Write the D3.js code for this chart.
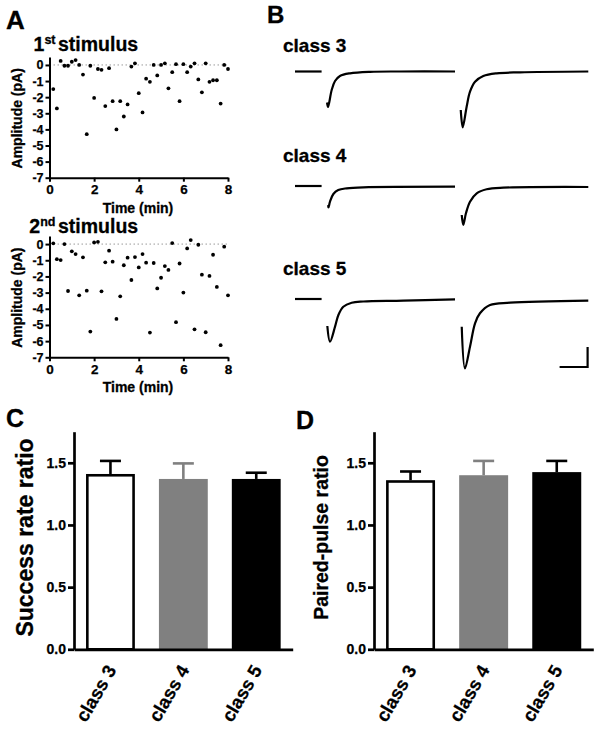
<!DOCTYPE html>
<html><head><meta charset="utf-8">
<script src="https://cdn.jsdelivr.net/npm/d3@7"></script>
<style>
body{margin:0;background:#fff}
svg{display:block}
text{font-family:"Liberation Sans",Arial,Helvetica,sans-serif;font-weight:bold;fill:#000;stroke:#000;stroke-width:0.3px}
</style>
</head><body>
<svg id="fig" width="600" height="746"></svg>
<script>
// ---------- DATA ----------
const stimTimes = [0.17,0.33,0.5,0.67,0.83,1.0,1.17,1.33,1.5,1.67,1.83,2.0,2.17,2.33,2.5,2.67,2.83,3.0,3.17,3.33,3.5,3.67,3.83,4.0,4.17,4.33,4.5,4.67,4.83,5.0,5.17,5.33,5.5,5.67,5.83,6.0,6.17,6.33,6.5,6.67,6.83,7.0,7.17,7.33,7.5,7.67,7.83,8.0];
const amp1st = [-1.5,-2.7,0.25,-0.05,-0.05,0.2,0.3,0,-0.6,-4.3,-0.05,-2.05,-0.25,-0.3,-2.55,-0.2,-2.25,-4.0,-2.25,-3.2,-2.45,-0.1,0.1,-1.75,-2.95,-0.85,-1.05,0,-0.65,0,0.1,-1.45,-0.45,0.05,-2.25,0.05,-0.45,-0.1,0.1,-0.9,-1.7,0.1,-1.05,-0.95,-0.95,-2.4,0,-0.25];
const amp2nd = [0.05,-0.93,-0.99,0,-2.9,-0.45,-0.62,-3.17,-0.82,-2.88,-5.41,0.1,0.14,-2.92,-1.13,-0.41,-1.09,-4.63,-3.23,-1.31,-0.84,-2.22,-0.8,-1.44,-0.62,-1.15,-5.47,-1.17,-2.74,-2.08,-1.36,-1.6,0.06,-4.83,-1.2,-3.0,-0.27,0.25,-5.27,-0.04,-1.89,-5.45,-1.97,-0.66,-2.65,-6.25,-0.16,-3.17];
const ampTicks = [0,-1,-2,-3,-4,-5,-6,-7];
const timeTicks = [0,2,4,6,8];

const classes = ["class 3","class 4","class 5"];
// example traces: segments of [time (ms), current (pA)]
const class3Trace = [
  [[0,0],[19,0]],
  [[22.9,-31],[23.6,-35.5],[26.2,-18.5],[28.6,-9.5],[32.1,-4.5],[39.3,-1.8],[53.6,-0.3],[75,0],[114.3,0]],
  [[118.4,-38.5],[119.8,-55.8],[122.6,-35.2],[125,-20.2],[128.6,-10.2],[134.5,-4.5],[144.1,-1.8],[160.7,-0.8],[209.5,0]]
];
const class4Trace = [
  [[0,0.7],[19,0.7]],
  [[23.6,-18.5],[23.9,-20.8],[25,-15],[27.4,-7.3],[30.9,-3.3],[36.9,-1.6],[48.8,-0.6],[114.3,0]],
  [[119.1,-28.3],[120.2,-38.3],[122.1,-26.6],[125,-15],[129.8,-6.6],[136.9,-2.6],[148.8,-1],[209.5,-0.3]]
];
const class5Trace = [
  [[0,1],[19,1]],
  [[23.1,-26],[25,-41.7],[28.6,-26.7],[31,-15],[34.5,-6.7],[40.5,-2.7],[48.8,-1.5],[77.4,-0.7],[114.3,0.7]],
  [[119.1,-26.7],[121.4,-68.3],[125,-46.7],[128.6,-23.3],[132.1,-13.3],[139.3,-5],[153.6,-2.7],[209.5,-0.7]]
];
const traces = [class3Trace, class4Trace, class5Trace];
const scaleBarMs = 20, scaleBarPa = 20;

const successRatio = [1.41,1.37,1.37];
const successSem   = [0.105,0.125,0.05];
const pprRatio     = [1.36,1.40,1.425];
const pprSem       = [0.07,0.115,0.09];
const ratioTicks   = [0,0.5,1.0,1.5];
const barFills     = ["#ffffff","#808080","#000000"];
const errColors    = ["#000000","#808080","#000000"];

// ---------- DRAW ----------
const svg = d3.select("#fig");
const FONT = '"Liberation Sans",Arial,sans-serif';

function letter(t, x, y, size){
  svg.append("text").attr("x",x).attr("y",y).style("font-size",size+"px").text(t);
}
letter("A",6,29,26); letter("B",267,23,24); letter("C",6,427,25); letter("D",296,429,25);

function styleAxisText(sel, size){
  sel.attr("fill","#000").style("font-size",size+"px").style("font-family",FONT)
    .style("font-weight","bold").style("stroke","#000").style("stroke-width","0.25px");
}

// ----- Panel A -----
function scatterPanel(amps, yBottom, yTop, num, sup, titleY){
  const x = d3.scaleLinear().domain([0,8]).range([49.5,228]);
  const y = d3.scaleLinear().domain([-7,0.5]).range([yBottom,yTop]);
  const g = svg.append("g");
  g.append("line").attr("x1",x(0)).attr("x2",x(8)).attr("y1",y(0)).attr("y2",y(0))
    .attr("stroke","#9a9a9a").attr("stroke-width",1).attr("stroke-dasharray","1.5,2.5");
  const ya = g.append("g").attr("transform",`translate(${x(0)},0)`)
    .call(d3.axisLeft(y).tickValues(ampTicks).tickFormat(d=>String(d)).tickSize(4).tickSizeOuter(0).tickPadding(2));
  const xa = g.append("g").attr("transform",`translate(0,${y(-7)})`)
    .call(d3.axisBottom(x).tickValues(timeTicks).tickFormat(d=>String(d)).tickSize(4).tickSizeOuter(0).tickPadding(3));
  [ya,xa].forEach(a=>{
    a.select(".domain").attr("stroke","#000").attr("stroke-width",2);
    a.selectAll(".tick line").attr("stroke","#000").attr("stroke-width",2);
  });
  styleAxisText(ya.selectAll("text"), 12.5);
  styleAxisText(xa.selectAll("text"), 13.5);
  g.selectAll("circle.pt").data(amps).join("circle").attr("class","pt")
    .attr("cx",(d,i)=>x(stimTimes[i])).attr("cy",d=>y(d)).attr("r",1.9).attr("fill","#000");
  g.append("text").attr("transform",`translate(22,${(yBottom+yTop)/2+1}) rotate(-90)`)
    .attr("text-anchor","middle").style("font-size","14px").text("Amplitude (pA)");
  g.append("text").attr("x",138).attr("y",yBottom+35).attr("text-anchor","middle")
    .style("font-size","14px").text("Time (min)");
  const t = g.append("text").attr("x",55.5).attr("y",titleY).attr("text-anchor","end").style("font-size","19.5px");
  t.append("tspan").text(num);
  t.append("tspan").attr("dy",-7).style("font-size","12.5px").text(sup);
  g.append("text").attr("x",58).attr("y",titleY).style("font-size","19.5px").text("stimulus");
}
scatterPanel(amp1st, 177.7, 56.9, "1", "st", 50.7);
scatterPanel(amp2nd, 357.3, 236.0, "2", "nd", 233);

// ----- Panel B -----
const tx = d3.scaleLinear().domain([0,210]).range([295,589]);
const baselines = [71.5,186.7,300];
const labelYs = [52,162,275];
const line = d3.line().curve(d3.curveCatmullRom.alpha(0.5));
traces.forEach((segs,i)=>{
  const ty = d3.scaleLinear().domain([-80,20]).range([baselines[i]+80,baselines[i]-20]);
  svg.append("text").attr("x",283).attr("y",labelYs[i]).style("font-size","19px").text(classes[i]);
  segs.forEach(s=>{
    svg.append("path").attr("d",line(s.map(p=>[tx(p[0]),ty(p[1])])))
      .attr("fill","none").attr("stroke","#000").attr("stroke-width",2.2).attr("stroke-linejoin","round");
  });
  if(i===2){
    const t0 = 209, v0 = -67;
    svg.append("path")
      .attr("d",`M${tx(t0-scaleBarMs)},${ty(v0)}L${tx(t0)},${ty(v0)}L${tx(t0)},${ty(v0+scaleBarPa)}`)
      .attr("fill","none").attr("stroke","#000").attr("stroke-width",2.2);
  }
});

// ----- Panels C & D -----
function barPanel(x0, x1, means, sems, label, labelX, labelSize){
  const xs = d3.scaleBand().domain(classes).range([x0,x1]).paddingInner(0.33).paddingOuter(0.165);
  const ys = d3.scaleLinear().domain([0,1.75]).range([649.3,431.7]);
  const g = svg.append("g");
  const bw = xs.bandwidth();
  classes.forEach((c,i)=>{
    const m = means[i], e = sems[i];
    const cx = xs(c)+bw/2;
    if(i===0){
      g.append("rect").attr("x",xs(c)+1.3).attr("y",ys(m)+1.3).attr("width",bw-2.6).attr("height",ys(0)-ys(m)-1.3)
        .attr("fill",barFills[i]).attr("stroke","#000").attr("stroke-width",2.6);
    } else {
      g.append("rect").attr("x",xs(c)).attr("y",ys(m)).attr("width",bw).attr("height",ys(0)-ys(m))
        .attr("fill",barFills[i]);
    }
    g.append("line").attr("x1",cx).attr("x2",cx).attr("y1",ys(m)).attr("y2",ys(m+e))
      .attr("stroke",errColors[i]).attr("stroke-width",2.6);
    g.append("line").attr("x1",cx-10.5).attr("x2",cx+10.5).attr("y1",ys(m+e)).attr("y2",ys(m+e))
      .attr("stroke",errColors[i]).attr("stroke-width",2.6);
  });
  const ya = g.append("g").attr("transform",`translate(${x0},0)`)
    .call(d3.axisLeft(ys).tickValues(ratioTicks).tickFormat(d3.format(".1f")).tickSize(6).tickSizeOuter(0).tickPadding(2));
  ya.select(".domain").attr("stroke","#000").attr("stroke-width",2.7);
  ya.selectAll(".tick line").attr("stroke","#000").attr("stroke-width",2.7);
  styleAxisText(ya.selectAll("text"), 14);
  const xa = g.append("g").attr("transform",`translate(0,${ys(0)})`)
    .call(d3.axisBottom(xs).tickSize(0).tickSizeOuter(0));
  xa.select(".domain").attr("stroke","#000").attr("stroke-width",2.7);
  styleAxisText(xa.selectAll("text"), 18.5);
  xa.selectAll("text").attr("x",null).attr("y",null).attr("dy",null)
    .attr("transform","translate(6.5,20.6) rotate(-60)").attr("text-anchor","end");
  g.append("text").attr("transform",`translate(${labelX},537.5) rotate(-90)`).attr("text-anchor","middle")
    .style("font-size",labelSize+"px").text(label);
}
barPanel(74, 292.7, successRatio, successSem, "Success rate ratio", 33, 23);
barPanel(374, 593.3, pprRatio, pprSem, "Paired-pulse ratio", 328, 19.5);
</script>
</body></html>
